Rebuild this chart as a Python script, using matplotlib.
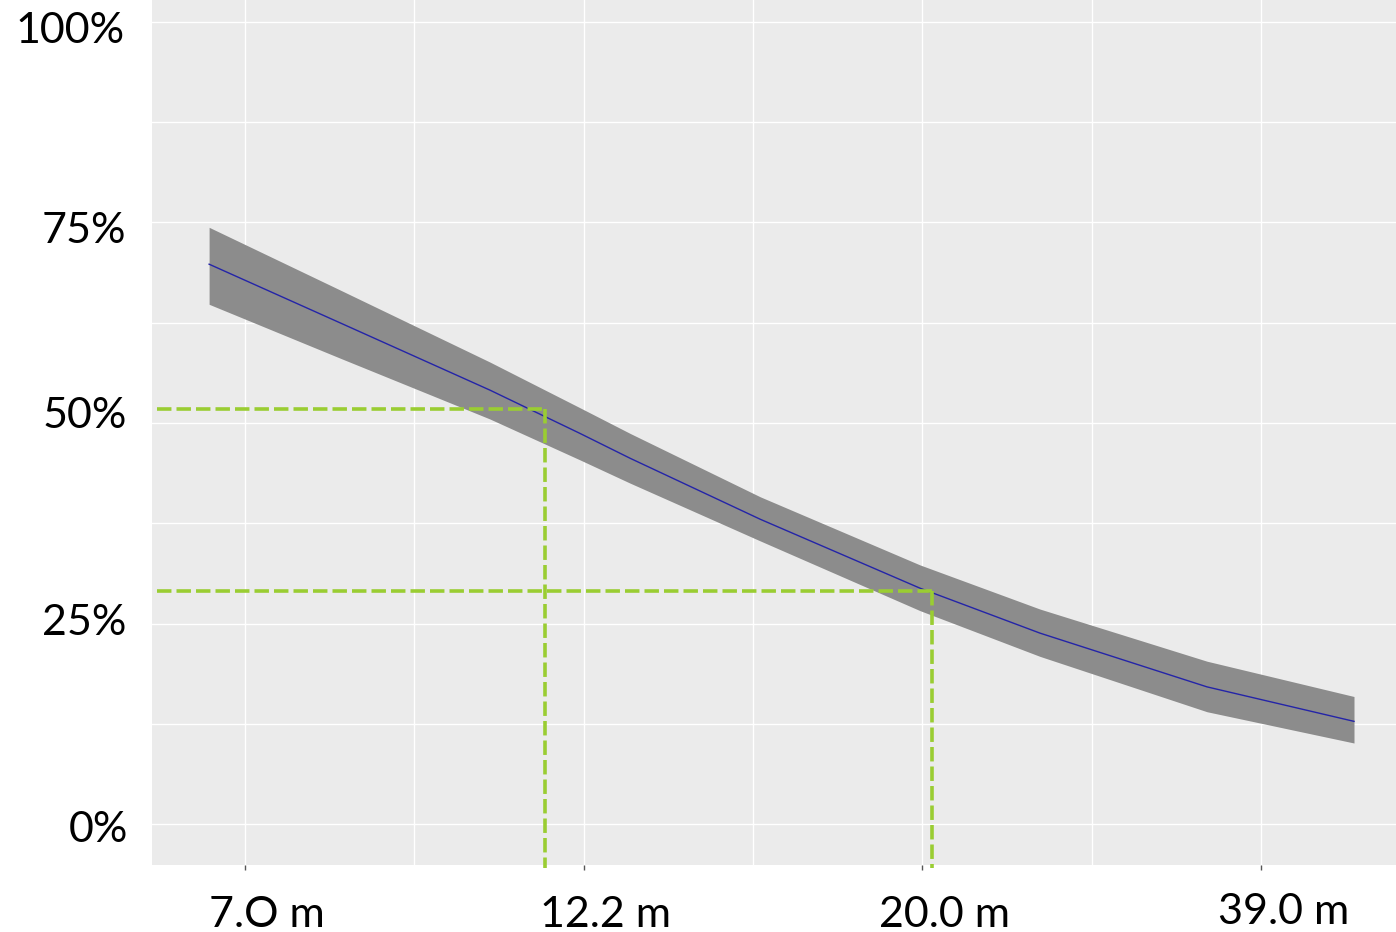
import matplotlib
matplotlib.use("Agg")
import matplotlib.pyplot as plt
from matplotlib.transforms import ScaledTranslation
from matplotlib.ticker import MultipleLocator, FixedLocator

# ---- data ----
# position on the (transformed) distance axis; ticks at 0..3 carry the labels
x_pos = [-0.106, 0.280, 0.723, 0.989, 1.137, 1.521, 1.993, 2.347, 2.840, 3.274]
center = [69.8, 62.5, 54.1, 48.7, 45.6, 38.0, 29.4, 23.8, 17.1, 12.8]
upper = [74.4, 66.6, 57.6, 51.9, 48.7, 40.8, 32.3, 26.8, 20.3, 15.9]
lower = [64.8, 58.1, 50.5, 45.4, 42.5, 35.3, 26.6, 20.9, 14.0, 10.1]

tick_pos = [0, 1, 2, 3]
tick_labels = ["7.O m", "12.2 m", "20.0 m", "39.0 m"]
y_ticks = [0, 25, 50, 75, 100]
y_labels = ["0%", "25%", "50%", "75%", "100%"]

# reference (threshold) lines
ref_y = [51.8, 29.05]
ref_x = [0.886, 2.028]

plt.rcParams['font.family'] = ['Lato', 'DejaVu Sans']

fig = plt.figure(figsize=(13.96, 9.32), dpi=100)
ax = fig.add_axes([152/1396, 67/932, 1 - 152/1396, 1 - 67/932])
ax.set_facecolor('#EBEBEB')
for s in ax.spines.values():
    s.set_visible(False)

ax.set_xlim(-0.2746, 3.398)
ax.set_ylim(-5.11, 102.74)

ax.xaxis.set_major_locator(FixedLocator(tick_pos))
ax.xaxis.set_minor_locator(MultipleLocator(0.5))
ax.yaxis.set_major_locator(FixedLocator(y_ticks))
ax.yaxis.set_minor_locator(MultipleLocator(12.5))
ax.set_xticklabels(tick_labels)
ax.set_yticklabels(y_labels)
ax.grid(True, which='both', color='white', lw=1.0)
ax.set_axisbelow(True)

ax.tick_params(axis='x', which='major', length=3.5, width=1, color='#555555',
               labelsize=31, pad=19)
ax.tick_params(axis='y', which='major', length=0, labelsize=31, pad=19)
ax.tick_params(which='minor', length=0)

# small label nudges (pixels) as in the reference layout
x_dy = [0, 0, 0, 3]
for lab, dy in zip(ax.get_xticklabels(), x_dy):
    lab.set_transform(lab.get_transform() +
                      ScaledTranslation(22/100, dy/100, fig.dpi_scale_trans))
y_dy = [-2, 4, 10, -5, -6]
y_dx = [3, 1, 1, 1, -1]
for lab, dy, dx in zip(ax.get_yticklabels(), y_dy, y_dx):
    lab.set_transform(lab.get_transform() +
                      ScaledTranslation(dx/100, dy/100, fig.dpi_scale_trans))

ax.fill_between(x_pos, lower, upper, color='#8C8C8C', lw=0, zorder=2)
ax.plot(x_pos, center, color='#2424A8', lw=1.0, zorder=3)

ymin = ax.get_ylim()[0]
xmin = -0.26
for xv, yv in zip(ref_x, ref_y):
    ax.plot([xmin, xv], [yv, yv], color='#9ACD32', lw=2.6, dashes=(4.0, 1.4), zorder=4)
    ax.plot([xv, xv], [yv, ymin - 0.4], color='#9ACD32', lw=2.6, dashes=(4.0, 1.4),
            zorder=4, clip_on=False)

fig.savefig('out.png', dpi=100)
